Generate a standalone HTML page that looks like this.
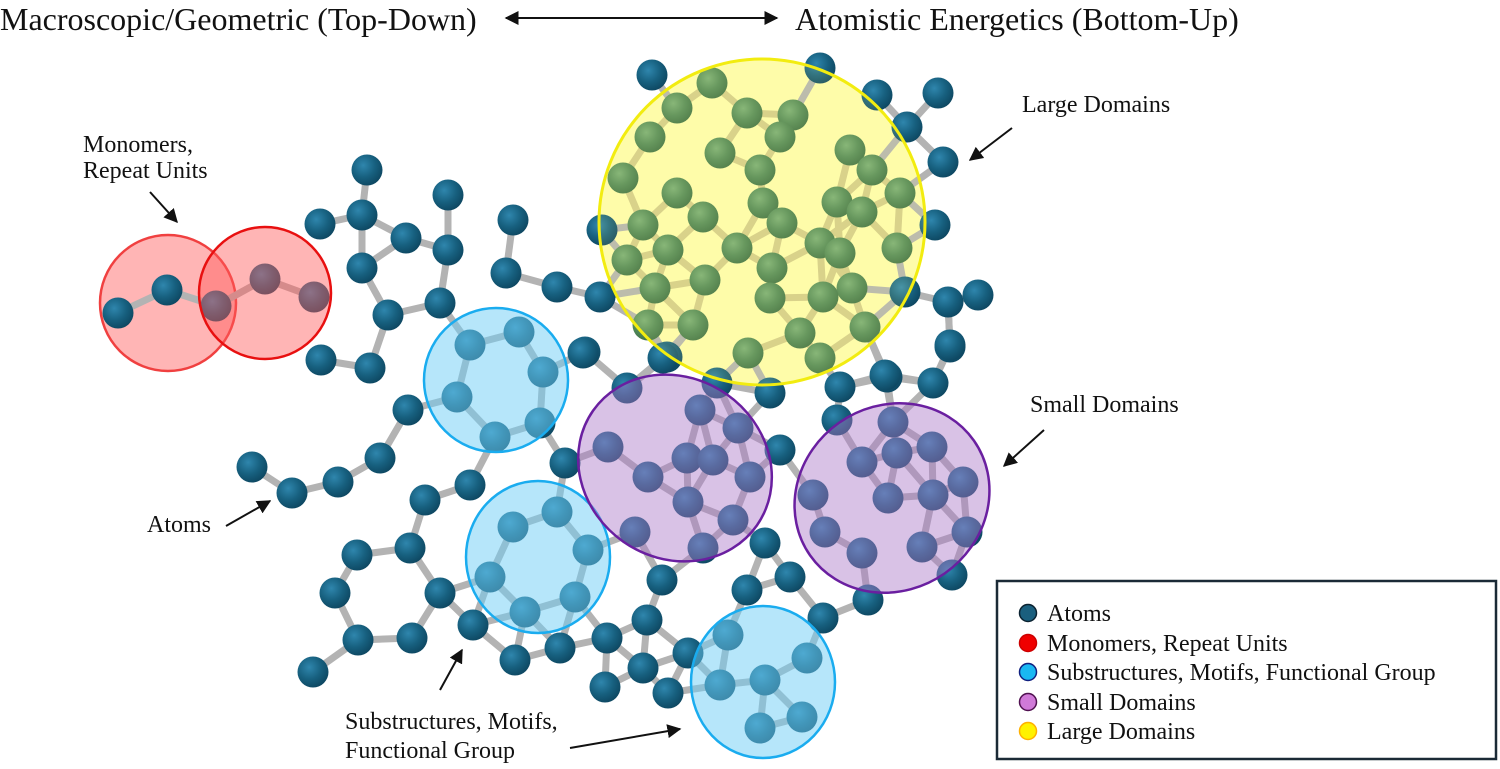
<!DOCTYPE html>
<html><head><meta charset="utf-8"><style>
html,body{margin:0;padding:0;background:#fff;width:1500px;height:769px;overflow:hidden}
svg{display:block}
text{font-family:"Liberation Serif",serif;fill:#111}
</style></head><body>
<svg id="s" width="1500" height="769" viewBox="0 0 1500 769" xmlns="http://www.w3.org/2000/svg">
<defs>
<radialGradient id="ab" cx="0.38" cy="0.35" r="0.7">
<stop offset="0" stop-color="#2f86ad"/><stop offset="0.55" stop-color="#17607f"/><stop offset="1" stop-color="#0d4660"/>
</radialGradient>
<radialGradient id="ag" cx="0.38" cy="0.35" r="0.7">
<stop offset="0" stop-color="#78ad78"/><stop offset="0.55" stop-color="#52895a"/><stop offset="1" stop-color="#3d7047"/>
</radialGradient>
<marker id="ah" viewBox="0 0 10 10" refX="9" refY="5" markerWidth="7" markerHeight="7" orient="auto-start-reverse"><path d="M0,0L10,5L0,10z" fill="#111"/></marker>
</defs>
<circle cx="762" cy="222" r="163" fill="#fefcb0"/>
<circle cx="168" cy="303" r="68" fill="rgba(255,90,90,0.45)" stroke="#f04040" stroke-width="2.5"/>
<g id="bonds"></g>
<g id="atoms"></g>
<g id="overlays">
<circle cx="265" cy="293" r="66" fill="rgba(255,90,90,0.45)" stroke="#e81010" stroke-width="2.5"/>
<circle cx="496" cy="380" r="72" fill="rgba(110,205,245,0.5)" stroke="#1aacef" stroke-width="2.5"/>
<ellipse cx="538" cy="557" rx="72" ry="76" fill="rgba(110,205,245,0.5)" stroke="#1aacef" stroke-width="2.5"/>
<ellipse cx="763" cy="682" rx="72" ry="76" fill="rgba(110,205,245,0.5)" stroke="#1aacef" stroke-width="2.5"/>
<ellipse cx="675" cy="468" rx="100" ry="90" transform="rotate(35 675 468)" fill="rgba(170,120,200,0.45)" stroke="#6a1fa0" stroke-width="2.5"/>
<ellipse cx="892" cy="498" rx="100" ry="92" transform="rotate(-35 892 498)" fill="rgba(170,120,200,0.45)" stroke="#6a1fa0" stroke-width="2.5"/>
<circle cx="762" cy="222" r="163" fill="rgba(255,255,120,0.12)" stroke="#f2ec10" stroke-width="3"/>
</g>
<text x="0" y="30" font-size="32">Macroscopic/Geometric (Top-Down)</text>
<line x1="506" y1="18" x2="777" y2="18" stroke="#111" stroke-width="2" marker-start="url(#ah)" marker-end="url(#ah)"/>
<text x="795" y="30" font-size="32">Atomistic Energetics (Bottom-Up)</text>
<g font-size="24">
<text x="83" y="152">Monomers,</text>
<text x="83" y="178">Repeat Units</text>
<text x="1022" y="112">Large Domains</text>
<text x="1030" y="412">Small Domains</text>
<text x="147" y="532">Atoms</text>
<text x="345" y="729">Substructures, Motifs,</text>
<text x="345" y="758">Functional Group</text>
</g>
<line x1="150" y1="192" x2="177" y2="222" stroke="#111" stroke-width="2" marker-end="url(#ah)"/>
<line x1="1012" y1="128" x2="970" y2="160" stroke="#111" stroke-width="2" marker-end="url(#ah)"/>
<line x1="1044" y1="430" x2="1004" y2="466" stroke="#111" stroke-width="2" marker-end="url(#ah)"/>
<line x1="226" y1="526" x2="270" y2="501" stroke="#111" stroke-width="2" marker-end="url(#ah)"/>
<line x1="440" y1="690" x2="462" y2="650" stroke="#111" stroke-width="2" marker-end="url(#ah)"/>
<line x1="570" y1="748" x2="680" y2="729" stroke="#111" stroke-width="2" marker-end="url(#ah)"/>
<rect x="997" y="581" width="499" height="178" fill="#fff" stroke="#1b2a36" stroke-width="2.5"/>
<circle cx="1028" cy="613" r="8.5" fill="#1a5f7e" stroke="#0b2230" stroke-width="1.5"/>
<circle cx="1028" cy="643" r="8.5" fill="#f00000" stroke="#c00" stroke-width="1.5"/>
<circle cx="1028" cy="672" r="8.5" fill="#1ab8f2" stroke="#102080" stroke-width="1.5"/>
<circle cx="1028" cy="702" r="8.5" fill="#d07ad8" stroke="#501050" stroke-width="1.5"/>
<circle cx="1028" cy="731" r="8.5" fill="#fff200" stroke="#ffb000" stroke-width="1.5"/>
<g font-size="24">
<text x="1047" y="621">Atoms</text>
<text x="1047" y="651">Monomers, Repeat Units</text>
<text x="1047" y="680">Substructures, Motifs, Functional Group</text>
<text x="1047" y="710">Small Domains</text>
<text x="1047" y="739">Large Domains</text>
</g>
</svg>
<script>
var A=[[118,313],[167,290],[216,306],[265,279],[314,297],
[367,170],[362,215],[320,224],[406,238],[362,268],[388,315],[440,303],[370,368],[321,360],[408,410],[380,458],[338,482],[292,493],[252,467],
[448,195],[448,250],[513,220],[506,273],[557,287],
[470,345],[519,332],[543,372],[540,423],[495,437],[457,397],[585,352],[565,463],[600,297],
[425,500],[470,485],[357,555],[410,548],[335,593],[440,593],[358,640],[412,638],[313,672],[473,625],
[513,527],[557,512],[588,550],[490,577],[525,612],[575,597],
[515,660],[560,648],[607,638],[605,687],[643,668],[647,620],[688,653],[668,693],
[728,635],[720,685],[765,680],[807,658],[802,717],[760,728],
[627,388],[700,410],[738,428],[608,447],[687,458],[713,460],[750,477],[648,477],[688,502],[733,520],[635,532],[703,548],
[583,353],[770,393],[840,387],[887,377],[933,383],[950,347],[837,420],[780,450],[765,543],[662,580],[747,590],[790,577],[868,600],[823,618],[952,575],
[893,422],[897,453],[932,447],[862,462],[963,482],[813,495],[888,498],[933,495],[825,532],[967,532],[862,553],[922,547],
[712,83],[677,108],[747,113],[793,115],[780,137],[650,137],[720,153],[760,170],[850,150],[872,170],[623,178],[677,193],[763,203],[900,193],[837,202],[862,212],[703,217],[782,223],[643,225],[602,230],[820,243],[840,253],[897,248],[668,250],[737,248],[627,260],[772,268],[655,288],[705,280],[770,298],[852,288],[823,297],[905,292],[648,325],[693,325],[800,333],[865,327],[748,353],[820,358],[667,357],
[652,75],[820,68],[877,95],[938,93],[907,127],[943,162],[935,225],[978,295],[948,302],[950,345],[885,375],[717,383],[663,358]];
var NS="http://www.w3.org/2000/svg",b=document.getElementById('bonds'),a=document.getElementById('atoms');
function inY(p){var dx=p[0]-762,dy=p[1]-222;return dx*dx+dy*dy<158*158;}
var G={};
for(var k=0;k<A.length;k++){var p=A[k];G[k]=inY(p)&&!(p[0]==717&&p[1]==383)&&!(p[0]==663&&p[1]==358)&&!(p[0]==600&&p[1]==297)&&!(p[0]==652&&p[1]==75)&&!(p[0]==820&&p[1]==68)&&!(p[0]==908&&p[1]==293);}
for(var i=0;i<A.length;i++)for(var j=i+1;j<A.length;j++){var dx=A[i][0]-A[j][0],dy=A[i][1]-A[j][1],d=Math.sqrt(dx*dx+dy*dy);
if(d>30&&d<56){var l=document.createElementNS(NS,'line');l.setAttribute('x1',A[i][0]);l.setAttribute('y1',A[i][1]);l.setAttribute('x2',A[j][0]);l.setAttribute('y2',A[j][1]);
l.setAttribute('stroke',(G[i]&&G[j])?'#d4cc8c':'#b3b3b3');l.setAttribute('stroke-width','7');b.appendChild(l);}}
A.forEach(function(p,k){var c=document.createElementNS(NS,'circle');c.setAttribute('cx',p[0]);c.setAttribute('cy',p[1]);c.setAttribute('r',15.5);c.setAttribute('fill',G[k]?'url(#ag)':'url(#ab)');a.appendChild(c);});
</script>
</body></html>
